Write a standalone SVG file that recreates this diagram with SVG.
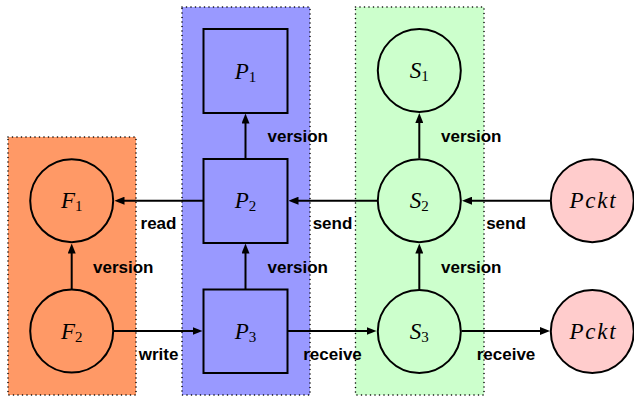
<svg xmlns="http://www.w3.org/2000/svg" width="634" height="398" viewBox="0 0 634 398">
<style>
.grp{stroke:#000;stroke-width:1.6;stroke-dasharray:0 4.5;stroke-linecap:round}
.nd{stroke:#000;stroke-width:2}
.ln{stroke:#000;stroke-width:2;fill:none;marker-end:url(#ah)}
.lbl{font-family:"Liberation Sans",Arial,sans-serif;font-weight:bold;font-size:17px;fill:#000}
.mt{font-family:"Liberation Serif","Times New Roman",serif;font-style:italic;font-size:23px;fill:#000}
.pk{letter-spacing:1.8px}
.sb{font-style:normal;font-size:15px}
</style>
<defs>
<marker id="ah" viewBox="0 0 10 8" refX="6" refY="4" markerWidth="10" markerHeight="8" markerUnits="userSpaceOnUse" orient="auto">
<path d="M0,0 L10,4 L0,8 z" fill="#000"/>
</marker>
</defs>
<g id="groups">
<rect id="grpF" class="grp" x="8" y="137" width="128" height="258" fill="#FF9966"/>
<rect id="grpP" class="grp" x="182" y="7" width="128" height="388" fill="#9999FF"/>
<rect id="grpS" class="grp" x="355.5" y="7" width="128.5" height="388" fill="#CCFFCC"/>
</g>
<g id="F1"><circle class="nd" cx="71.7" cy="200.7" r="41.5" fill="#FF9966"/><text class="mt" x="71.7" y="208" text-anchor="middle">F<tspan class="sb" dy="3">1</tspan></text></g>
<g id="F2"><circle class="nd" cx="71.7" cy="331" r="41.5" fill="#FF9966"/><text class="mt" x="71.7" y="338.5" text-anchor="middle">F<tspan class="sb" dy="3">2</tspan></text></g>
<g id="P1"><rect class="nd" x="203.5" y="29" width="84" height="84" fill="#9999FF"/><text class="mt" x="245.5" y="78.5" text-anchor="middle">P<tspan class="sb" dy="3">1</tspan></text></g>
<g id="P2"><rect class="nd" x="203.5" y="159" width="84" height="84" fill="#9999FF"/><text class="mt" x="245.5" y="208" text-anchor="middle">P<tspan class="sb" dy="3">2</tspan></text></g>
<g id="P3"><rect class="nd" x="203.5" y="289.5" width="84" height="83.5" fill="#9999FF"/><text class="mt" x="245.5" y="338.5" text-anchor="middle">P<tspan class="sb" dy="3">3</tspan></text></g>
<g id="S1"><circle class="nd" cx="419.3" cy="70.5" r="41.5" fill="#CCFFCC"/><text class="mt" x="419.3" y="78" text-anchor="middle">S<tspan class="sb" dy="3">1</tspan></text></g>
<g id="S2"><circle class="nd" cx="419.3" cy="200.7" r="41.5" fill="#CCFFCC"/><text class="mt" x="419.3" y="208" text-anchor="middle">S<tspan class="sb" dy="3">2</tspan></text></g>
<g id="S3"><circle class="nd" cx="419.3" cy="331.5" r="41.5" fill="#CCFFCC"/><text class="mt" x="419.3" y="338.5" text-anchor="middle">S<tspan class="sb" dy="3">3</tspan></text></g>
<g id="Pckt1"><circle class="nd" cx="592.3" cy="200.7" r="41.5" fill="#FFCCCC"/><text class="mt pk" x="593.5" y="208" text-anchor="middle">Pckt</text></g>
<g id="Pckt2"><circle class="nd" cx="592.3" cy="331.5" r="41.5" fill="#FFCCCC"/><text class="mt pk" x="593.5" y="338.5" text-anchor="middle">Pckt</text></g>
<g id="connectors">
<line class="ln" x1="203" y1="200.7" x2="118.5" y2="200.7"/>
<line class="ln" x1="71.7" y1="289" x2="71.7" y2="247.5"/>
<line class="ln" x1="245.5" y1="289" x2="245.5" y2="247.5"/>
<line class="ln" x1="245.5" y1="158.5" x2="245.5" y2="117.5"/>
<line class="ln" x1="419.3" y1="158.5" x2="419.3" y2="117"/>
<line class="ln" x1="419.3" y1="289.5" x2="419.3" y2="247.5"/>
<line class="ln" x1="377" y1="200.7" x2="292.5" y2="200.7"/>
<line class="ln" x1="550" y1="200.7" x2="466" y2="200.7"/>
<line class="ln" x1="114" y1="331" x2="198.5" y2="331"/>
<line class="ln" x1="288" y1="331" x2="372.5" y2="331"/>
<line class="ln" x1="461.5" y1="331" x2="546" y2="331"/>
<text class="lbl" x="158.5" y="229" text-anchor="middle">read</text>
<text class="lbl" x="332.5" y="229" text-anchor="middle">send</text>
<text class="lbl" x="506" y="229" text-anchor="middle">send</text>
<text class="lbl" x="158.5" y="360" text-anchor="middle">write</text>
<text class="lbl" x="332.5" y="360" text-anchor="middle">receive</text>
<text class="lbl" x="506" y="360" text-anchor="middle">receive</text>
<text class="lbl" x="93" y="272.7">version</text>
<text class="lbl" x="267.5" y="272.7">version</text>
<text class="lbl" x="267.5" y="141.7">version</text>
<text class="lbl" x="441" y="141.7">version</text>
<text class="lbl" x="441" y="273">version</text>
</g>
</svg>
